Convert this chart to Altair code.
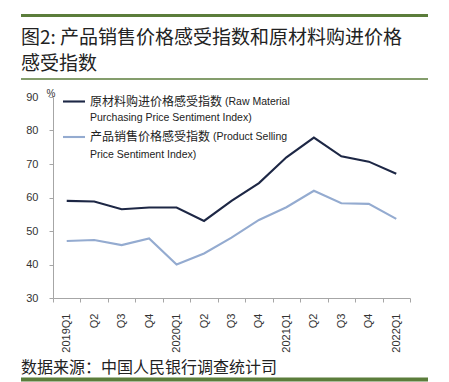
import altair as alt
import pandas as pd

quarters = ["2019Q1", "2019Q2", "2019Q3", "2019Q4",
            "2020Q1", "2020Q2", "2020Q3", "2020Q4",
            "2021Q1", "2021Q2", "2021Q3", "2021Q4", "2022Q1"]
raw_material = [59.0, 58.8, 56.5, 57.0, 57.0, 53.0, 59.0, 64.3, 72.0, 77.9, 72.3, 70.7, 67.1]
product_selling = [47.0, 47.3, 45.8, 47.8, 40.0, 43.3, 48.0, 53.3, 57.1, 62.0, 58.3, 58.1, 53.6]
series_names = ["原材料购进价格感受指数", "产品销售价格感受指数"]
series_colors = ["#1d2745", "#94abd0"]
y_ticks = [30, 40, 50, 60, 70, 80, 90]

title_line1 = "图2: 产品销售价格感受指数和原材料购进价格"
title_line2 = "感受指数"
source_text = "数据来源：中国人民银行调查统计司"
leg1_cn, leg1_en1, leg1_en2 = "原材料购进价格感受指数", "(Raw  Material", "Purchasing Price Sentiment Index)"
leg2_cn, leg2_en1, leg2_en2 = "产品销售价格感受指数", "(Product  Selling", "Price Sentiment Index)"

rows = []
for q, v in zip(quarters, raw_material):
    rows.append({"quarter": q, "value": v, "series": series_names[0]})
for q, v in zip(quarters, product_selling):
    rows.append({"quarter": q, "value": v, "series": series_names[1]})
df = pd.DataFrame(rows)
one = pd.DataFrame({"_": [0]})

CJK = "Noto Sans CJK SC"
LAT = "Liberation Sans, Noto Sans CJK SC"
GREEN = "#5b7d3b"
AX = "#a6a6a6"

label_expr = ("isString(datum.value) ? (indexof(datum.value, 'Q1') >= 0 ? datum.value : "
              "substring(datum.value, 4)) : ''")

lines = alt.Chart(df).mark_line(strokeWidth=2.1).encode(
    x=alt.X("quarter:O", sort=quarters,
            scale=alt.Scale(type="band", paddingInner=0, paddingOuter=0),
            axis=alt.Axis(title=None, tickBand="extent", labelAngle=270, labelExpr=label_expr,
                          labelOverlap=False,
                          labelFont="Liberation Sans", labelFontSize=11, labelColor="#333333",
                          labelPadding=11, tickSize=4, tickColor=AX, domainColor=AX)),
    y=alt.Y("value:Q", scale=alt.Scale(domain=[30, 90], nice=False, zero=False),
            axis=alt.Axis(title=None, values=y_ticks, grid=False, tickSize=4, tickColor=AX,
                          domainColor=AX, labelFont="Liberation Sans", labelFontSize=11,
                          labelColor="#333333", labelPadding=11)),
    color=alt.Color("series:N", scale=alt.Scale(domain=series_names, range=series_colors), legend=None),
)


def txt(s, x, y, size, font=CJK, color="#222222", align="left"):
    return alt.Chart(one).mark_text(align=align, baseline="middle", font=font, fontSize=size,
                                    color=color).encode(
        x=alt.value(x), y=alt.value(y), text=alt.value(s))


def rule(x1, x2, y, color, w):
    return alt.Chart(one).mark_rule(color=color, strokeWidth=w).encode(
        x=alt.value(x1), x2=alt.value(x2), y=alt.value(y))


decor = [
    rule(-32, 375, -81.5, GREEN, 3),
    txt(title_line1, -32, -59.5, 19),
    txt(title_line2, -32, -33.5, 19),
    rule(-32, 375, -18, GREEN, 1.5),
    txt("%", -2, -3.5, 10, font=LAT, color="#333333", align="center"),
    rule(10, 32, 4.5, series_colors[0], 2.1),
    txt(leg1_cn, 37, 4.5, 12),
    txt(leg1_en1, 172, 4.5, 10.5, font=LAT),
    txt(leg1_en2, 37, 21, 10.5, font=LAT),
    rule(10, 32, 40, series_colors[1], 2.1),
    txt(leg2_cn, 37, 40, 12),
    txt(leg2_en1, 160, 40, 10.5, font=LAT),
    txt(leg2_en2, 37, 58, 10.5, font=LAT),
    txt(source_text, -32, 271, 16),
    rule(-32, 375, 282.5, GREEN, 4),
]

chart = alt.layer(lines, *decor).properties(
    width=357, height=201,
    padding={"left": 45, "top": 89, "right": 31, "bottom": 84},
    autosize=alt.AutoSizeParams(type="none"),
    background="white",
).configure_view(strokeWidth=0)

chart.save("out.html", embed_options={"renderer": "svg", "actions": False})
